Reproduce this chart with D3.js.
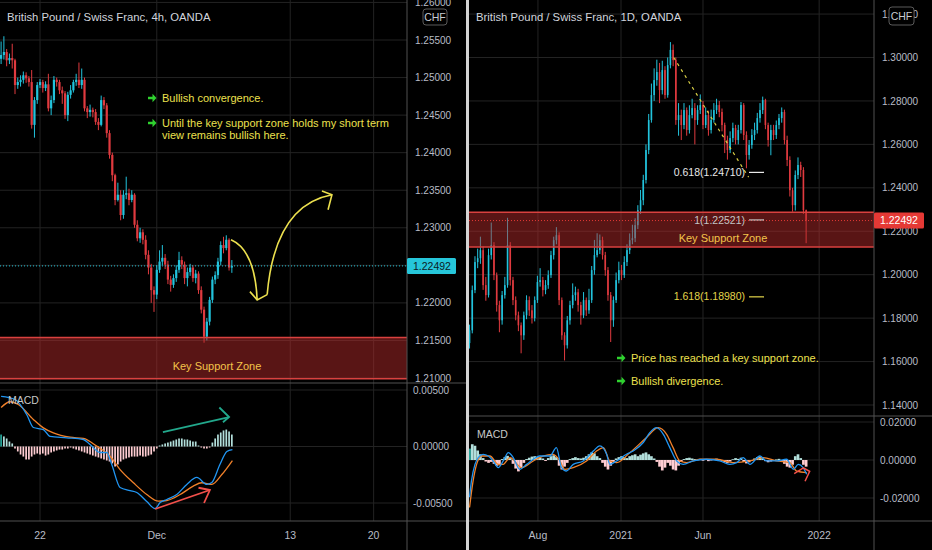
<!DOCTYPE html>
<html><head><meta charset="utf-8">
<script src="https://cdn.jsdelivr.net/npm/d3@7"></script>
<style>
body{margin:0;background:#000;}
svg{display:block;font-family:"Liberation Sans",Arial,sans-serif;}
</style>
</head><body>
<svg id="chart" width="932" height="550"></svg>
<script>
// ---------------- LEFT PANEL DATA (GBPCHF 4h) ----------------
const L_title = "British Pound / Swiss Franc, 4h, OANDA";
const L_open0 = 1.2525;
const L_close = [1.2530,1.2534,1.2523,1.2526,1.2523,1.2490,1.2494,1.2497,1.2503,1.2499,
 1.2494,1.2437,1.2470,1.2490,1.2494,1.2486,1.2491,1.2459,1.2470,1.2497,
 1.2494,1.2483,1.2479,1.2450,1.2477,1.2483,1.2494,1.2497,1.2490,1.2497,
 1.2459,1.2454,1.2457,1.2454,1.2441,1.2437,1.2470,1.2463,1.2426,1.2397,
 1.2370,1.2337,1.2344,1.2317,1.2344,1.2346,1.2337,1.2344,1.2304,1.2286,
 1.2294,1.2284,1.2264,1.2247,1.2217,1.2211,1.2244,1.2255,1.2260,1.2251,
 1.2231,1.2224,1.2233,1.2244,1.2257,1.2251,1.2233,1.2241,1.2247,1.2233,
 1.2239,1.2217,1.2191,1.2155,1.2175,1.2204,1.2231,1.2237,1.2255,1.2277,
 1.2273,1.2284,1.2247,1.2249];
const L_high = [1.2548,1.2555,1.2538,1.2532,1.2545,1.2525,1.2500,1.2503,1.2508,1.2507,
 1.2502,1.2510,1.2474,1.2494,1.2498,1.2497,1.2495,1.2505,1.2476,1.2502,
 1.2500,1.2497,1.2488,1.2482,1.2481,1.2490,1.2497,1.2505,1.2520,1.2512,
 1.2500,1.2462,1.2464,1.2460,1.2458,1.2446,1.2476,1.2474,1.2466,1.2430,
 1.2400,1.2372,1.2360,1.2350,1.2350,1.2368,1.2352,1.2350,1.2346,1.2310,
 1.2300,1.2298,1.2290,1.2270,1.2252,1.2222,1.2250,1.2270,1.2277,1.2265,
 1.2256,1.2236,1.2238,1.2250,1.2268,1.2262,1.2255,1.2247,1.2252,1.2250,
 1.2244,1.2242,1.2222,1.2195,1.2180,1.2208,1.2235,1.2242,1.2260,1.2282,
 1.2288,1.2290,1.2286,1.2257];
const L_low = [1.2518,1.2524,1.2515,1.2518,1.2512,1.2478,1.2485,1.2488,1.2492,1.2493,
 1.2488,1.2432,1.2420,1.2465,1.2486,1.2480,1.2482,1.2455,1.2450,1.2466,
 1.2488,1.2478,1.2465,1.2445,1.2442,1.2472,1.2480,1.2489,1.2486,1.2485,
 1.2455,1.2446,1.2448,1.2447,1.2437,1.2430,1.2435,1.2458,1.2420,1.2392,
 1.2362,1.2330,1.2335,1.2310,1.2312,1.2338,1.2330,1.2334,1.2300,1.2282,
 1.2280,1.2278,1.2258,1.2238,1.2200,1.2188,1.2205,1.2240,1.2250,1.2245,
 1.2225,1.2215,1.2220,1.2228,1.2240,1.2245,1.2225,1.2222,1.2236,1.2228,
 1.2226,1.2212,1.2186,1.2147,1.2150,1.2170,1.2200,1.2225,1.2232,1.2250,
 1.2266,1.2270,1.2243,1.2240];
const L_hist = [0.00106,0.00089,0.00071,0.00044,0.00027,-0.00018,-0.00044,-0.00071,-0.00089,-0.00115,
 -0.00115,-0.00089,-0.00071,-0.00062,-0.00071,-0.00062,-0.00080,-0.00071,-0.00053,-0.00044,
 -0.00035,-0.00027,-0.00027,-0.00018,-0.00018,-0.00009,-0.00018,-0.00027,-0.00035,-0.00044,
 -0.00053,-0.00062,-0.00071,-0.00080,-0.00089,-0.00097,-0.00106,-0.00115,-0.00124,-0.00133,
 -0.00150,-0.00177,-0.00159,-0.00133,-0.00115,-0.00106,-0.00097,-0.00089,-0.00089,-0.00089,
 -0.00080,-0.00089,-0.00089,-0.00080,-0.00071,-0.00044,-0.00018,0.00009,0.00018,0.00027,
 0.00035,0.00044,0.00053,0.00062,0.00071,0.00071,0.00062,0.00062,0.00053,0.00044,
 0.00044,0.00009,-0.00009,-0.00018,-0.00018,-0.00009,0.00035,0.00071,0.00106,0.00124,
 0.00142,0.00150,0.00133,0.00106];
const L_macdIdx = [0,5,9.2,11.6,15.2,17.6,23.6,29.6,32,35.6,38,39.8,42.8,46.4,48.8,52.4,55.4,57.2,59.6,63.2,66.8,70.4,74,75.8,78.7,81.2,83.2];
const L_macd = [0.00443,0.00416,0.00283,0.00168,0.00150,0.00089,0.00077,0.00062,0.00018,-0.00053,-0.00053,-0.00160,-0.00363,-0.00390,-0.00407,-0.00487,-0.00549,-0.00496,-0.00469,-0.00425,-0.00336,-0.00274,-0.00336,-0.00319,-0.00160,-0.00044,-0.00027];
const L_sigIdx = [0,3.2,6.2,11.6,15.2,18.8,24.8,29.6,34.4,39.2,42.8,47.6,52.4,56.6,59.6,64.4,69.1,72.2,75.8,79.4,83.2];
const L_sig = [0.00345,0.00396,0.00372,0.00239,0.00165,0.00121,0.00082,0.00071,0.00003,-0.00086,-0.00204,-0.00321,-0.00425,-0.00484,-0.00478,-0.00425,-0.00351,-0.00321,-0.00336,-0.00248,-0.00124];
const L_priceTicks = [1.26,1.255,1.25,1.245,1.24,1.235,1.23,1.225,1.22,1.215,1.21];
const L_macdTicks = [0.005,0,-0.005];
const L_timeIdx = [14,56,104,134];
const L_timeLab = ["22","Dec","13","20"];
const L_zone = [1.2099,1.2154];
const L_last = 1.22492;

// ---------------- RIGHT PANEL DATA (GBPCHF 1D, sampled) ----------------
const R_title = "British Pound / Swiss Franc, 1D, OANDA";
const R_start = "2020-03-28";
const R_stepDays = 5;
const R_open0 = 1.1685;
const R_close = [1.1744,1.1929,1.2058,1.2076,1.2113,1.1952,1.1906,1.2090,1.2136,1.1998,
 1.1860,1.1790,1.1906,1.1952,1.2136,1.1975,1.1883,1.1813,1.1767,1.1721,
 1.1813,1.1883,1.1836,1.1800,1.1883,1.1966,1.1975,1.1929,1.1952,1.1998,
 1.2090,1.2159,1.2182,1.1883,1.1721,1.1675,1.1790,1.1860,1.1906,1.1919,
 1.1860,1.1813,1.1883,1.1836,1.1883,1.2021,1.2090,1.2113,1.2159,1.2090,
 1.2021,1.1906,1.1790,1.1883,1.1975,1.2021,1.1998,1.2058,1.2113,1.2159,
 1.2168,1.2228,1.2297,1.2343,1.2436,1.2574,1.2712,1.2827,1.2896,1.2933,
 1.2850,1.2942,1.2827,1.2965,1.3035,1.2988,1.2712,1.2735,1.2689,1.2758,
 1.2666,1.2735,1.2767,1.2712,1.2758,1.2781,1.2689,1.2735,1.2666,1.2712,
 1.2758,1.2781,1.2749,1.2689,1.2620,1.2574,1.2629,1.2675,1.2620,1.2666,
 1.2781,1.2643,1.2551,1.2597,1.2643,1.2666,1.2721,1.2758,1.2804,1.2689,
 1.2620,1.2666,1.2643,1.2689,1.2721,1.2749,1.2620,1.2528,1.2389,1.2320,
 1.2459,1.2505,1.2482,1.2297,1.2249];
const R_high = [1.1770,1.1950,1.2085,1.2120,1.2175,1.2130,1.1990,1.2120,1.2240,1.2150,
 1.2010,1.1880,1.1925,1.1990,1.2262,1.2150,1.1990,1.1900,1.1830,1.1780,
 1.1830,1.1905,1.1900,1.1860,1.1900,1.1995,1.2030,1.1990,1.1975,1.2020,
 1.2110,1.2175,1.2219,1.2195,1.1895,1.1735,1.1810,1.1880,1.1960,1.1945,
 1.1935,1.1875,1.1920,1.1895,1.1935,1.2040,1.2160,1.2191,1.2185,1.2175,
 1.2105,1.2035,1.1920,1.1900,1.2010,1.2060,1.2045,1.2085,1.2140,1.2190,
 1.2230,1.2260,1.2320,1.2390,1.2460,1.2600,1.2740,1.2880,1.2950,1.2990,
 1.2975,1.2985,1.2960,1.3000,1.3071,1.3060,1.3000,1.2790,1.2760,1.2790,
 1.2770,1.2780,1.2810,1.2790,1.2780,1.2830,1.2800,1.2770,1.2755,1.2760,
 1.2790,1.2810,1.2800,1.2765,1.2700,1.2640,1.2660,1.2700,1.2690,1.2690,
 1.2795,1.2790,1.2660,1.2620,1.2670,1.2700,1.2745,1.2790,1.2820,1.2810,
 1.2700,1.2690,1.2690,1.2710,1.2740,1.2770,1.2760,1.2640,1.2545,1.2400,
 1.2480,1.2540,1.2520,1.2495,1.2300];
const R_low = [1.1660,1.1730,1.1915,1.2030,1.2050,1.1930,1.1880,1.1895,1.2070,1.1975,
 1.1830,1.1735,1.1770,1.1890,1.1940,1.1950,1.1860,1.1790,1.1740,1.1638,
 1.1700,1.1795,1.1810,1.1775,1.1785,1.1870,1.1945,1.1900,1.1910,1.1935,
 1.1985,1.2070,1.2140,1.1860,1.1700,1.1605,1.1660,1.1770,1.1845,1.1880,
 1.1830,1.1770,1.1800,1.1810,1.1820,1.1870,1.2000,1.2080,1.2095,1.2070,
 1.1995,1.1880,1.1690,1.1760,1.1870,1.1960,1.1975,1.1985,1.2040,1.2095,
 1.2140,1.2150,1.2210,1.2280,1.2320,1.2420,1.2555,1.2700,1.2800,1.2870,
 1.2790,1.2830,1.2810,1.2815,1.2950,1.2960,1.2690,1.2640,1.2620,1.2670,
 1.2640,1.2650,1.2720,1.2600,1.2690,1.2740,1.2670,1.2675,1.2640,1.2650,
 1.2700,1.2740,1.2725,1.2660,1.2560,1.2530,1.2560,1.2610,1.2600,1.2600,
 1.2650,1.2620,1.2490,1.2530,1.2580,1.2620,1.2650,1.2700,1.2740,1.2670,
 1.2590,1.2550,1.2620,1.2625,1.2670,1.2700,1.2600,1.2500,1.2360,1.2290,
 1.2295,1.2440,1.2450,1.2280,1.2145];
const R_hist = [0.0060,0.0083,0.0075,0.0050,0.0030,0.0010,-0.0008,-0.0015,-0.0010,-0.0020,
 -0.0030,-0.0028,0.0005,0.0015,0.0022,0.0010,-0.0020,-0.0045,-0.0060,-0.0040,
 -0.0015,0.0005,0.0012,0.0018,0.0020,0.0015,0.0012,0.0008,-0.0005,0.0010,
 0.0020,0.0025,0.0015,-0.0030,-0.0050,-0.0035,-0.0015,0.0005,0.0010,0.0015,
 0.0010,0.0008,0.0012,0.0020,0.0030,0.0040,0.0035,0.0020,0.0010,-0.0015,
 -0.0035,-0.0050,-0.0030,-0.0010,0.0008,0.0015,0.0020,0.0015,0.0010,0.0020,
 0.0025,0.0030,0.0020,0.0028,0.0035,0.0040,0.0030,0.0020,0.0008,-0.0010,
 -0.0035,-0.0055,-0.0040,-0.0015,-0.0030,-0.0050,-0.0055,-0.0030,-0.0010,0.0005,
 0.0010,0.0012,0.0008,0.0005,0.0002,0.0006,-0.0004,0.0003,-0.0006,-0.0002,
 0.0004,0.0007,0.0003,-0.0005,-0.0012,-0.0015,-0.0008,0.0004,0.0010,0.0006,
 0.0012,-0.0010,-0.0018,-0.0012,-0.0005,0.0008,0.0015,0.0018,0.0010,-0.0006,
 -0.0012,-0.0008,-0.0004,0.0003,0.0006,-0.0005,-0.0020,-0.0035,-0.0040,-0.0025,
 0.0020,0.0030,0.0010,-0.0025,-0.0035];
const R_macdIdx = [0,0.7,2,3.2,5,6.9,8.7,10.6,12.4,14.3,16.1,18.5,21,23.5,25.9,29.6,32,33.9,35.7,38.2,41.9,45.6,48,50.5,51.7,54.2,57.8,60.3,64,66.4,68.9,71.4,73.8,76.3,78.7,82.4,87.3,92.2,95.9,98.4,100.8,103.3,107,109.4,113.1,116.8,119.3,121.1,122.9,124.2];
const R_macd = [-0.0196,-0.0110,-0.0023,0.0013,0.0030,0.0021,-0.0005,-0.0040,-0.0005,0.0039,0.0013,-0.0049,-0.0023,0.0004,0.0021,0.0021,0.0065,-0.0040,-0.0058,-0.0023,-0.0005,0.0047,0.0074,0.0030,-0.0023,-0.0005,0.0030,0.0047,0.0092,0.0144,0.0170,0.0135,0.0065,-0.0005,-0.0023,-0.0005,0.0004,-0.0005,-0.0023,-0.0014,0.0013,-0.0023,0.0021,-0.0005,-0.0005,0.0004,-0.0049,-0.0023,-0.0040,-0.0075];
const R_sigIdx = [0,1.2,2.6,4.4,7.5,10.6,12.4,14.9,19.2,23.5,27.1,30.8,33.3,35.1,38.2,43.1,46.8,49.3,51.7,54.2,59.1,65.2,69.5,72.6,75,77.5,80,84.9,91,97.1,103.3,108.2,113.1,118,120.5,124.2];
const R_sig = [-0.0250,-0.0120,-0.0023,0.0021,0.0021,-0.0023,-0.0023,0.0013,-0.0040,-0.0005,0.0021,0.0030,-0.0005,-0.0049,-0.0040,-0.0005,0.0047,0.0065,-0.0005,-0.0014,0.0039,0.0118,0.0170,0.0135,0.0065,-0.0005,-0.0014,0.0004,0.0004,-0.0014,-0.0005,0.0013,-0.0005,-0.0014,-0.0058,-0.0066];
const R_priceTicks = [1.32,1.30,1.28,1.26,1.24,1.22,1.20,1.18,1.16,1.14];
const R_macdTicks = [0.02,0,-0.02];
const R_timeDates = ["2020-08-01","2021-01-01","2021-06-01","2022-01-01"];
const R_timeLab = ["Aug","2021","Jun","2022"];
const R_zone = [1.2127,1.2288];
const R_last = 1.22492;
const R_fibLevels = [1.24710,1.22521,1.18980];
const R_fibLabels = ["0.618(1.24710)","1(1.22521)","1.618(1.18980)"];

// ---------------- STYLE ----------------
const GRID="#232323", SEP="#505050", AX="#b8bcc6", TITLE="#d1d4dc";
const UP="#22c3dc", DN="#e03a3f";
const BLUE="#2196f3", ORANGE="#f0802a";
const ZONE_FILL="rgba(190,45,45,0.47)", ZONE_LINE="#d9413f";
const YEL="#ece04e";

const svg = d3.select("#chart");
svg.append("rect").attr("width",932).attr("height",550).attr("fill","#000");
const defs = svg.append("defs");
function clip(id,x,y,w,h){defs.append("clipPath").attr("id",id).append("rect").attr("x",x).attr("y",y).attr("width",w).attr("height",h);return "url(#"+id+")";}
const fmt = v => v.toFixed(5);

function histColor(h,i,arr){
  const p = i>0?arr[i-1]:h;
  if(h>=0) return h>=p ? "#26a69a" : "#b2dfdb";
  return h<p ? "#ff5252" : "#ffcdd2";
}

function panel(o){
  const g = svg.append("g");
  const cp = clip("cp"+o.id,o.x0,0,o.ax-o.x0,o.sepY);
  const cm = clip("cm"+o.id,o.x0,o.sepY,o.ax-o.x0,o.botY-o.sepY);
  const ca = clip("ca"+o.id,o.ax,0,o.x1-o.ax,o.sepY);
  // grid
  g.selectAll(null).data(o.timeX).join("line")
    .attr("x1",d=>d).attr("x2",d=>d).attr("y1",0).attr("y2",o.botY).attr("stroke",GRID);
  g.selectAll(null).data(o.priceTicks).join("line").attr("clip-path",cp)
    .attr("x1",o.x0).attr("x2",o.ax).attr("y1",d=>o.y(d)).attr("y2",d=>o.y(d)).attr("stroke",GRID);
  g.selectAll(null).data(o.macdTicks).join("line")
    .attr("x1",o.x0).attr("x2",o.ax).attr("y1",d=>o.m(d)).attr("y2",d=>o.m(d)).attr("stroke",GRID);
  // candles
  const cg = g.append("g").attr("clip-path",cp);
  o.C.forEach((c,i)=>{
    const op = i===0 ? o.open0 : o.C[i-1];
    const col = c>=op ? UP : DN;
    const x = o.x(i);
    const hi = Math.max(o.H[i],op,c), lo = Math.min(o.L[i],op,c);
    cg.append("line").attr("x1",x).attr("x2",x).attr("y1",o.y(hi)).attr("y2",o.y(lo)).attr("stroke",col).attr("stroke-width",1);
    const t = o.y(Math.max(op,c)), b = o.y(Math.min(op,c));
    cg.append("rect").attr("x",x-o.bw/2).attr("y",t).attr("width",o.bw).attr("height",Math.max(1,b-t)).attr("fill",col);
  });
  // support zone
  const zt = o.y(o.zone[1]), zb = o.y(o.zone[0]);
  g.append("rect").attr("x",o.x0).attr("y",zt).attr("width",o.ax-o.x0).attr("height",zb-zt).attr("fill",ZONE_FILL);
  g.append("line").attr("x1",o.x0).attr("x2",o.ax).attr("y1",zt).attr("y2",zt).attr("stroke",ZONE_LINE).attr("stroke-width",1.5);
  g.append("line").attr("x1",o.x0).attr("x2",o.ax).attr("y1",zb).attr("y2",zb).attr("stroke",ZONE_LINE).attr("stroke-width",1.5);
  g.append("text").attr("x",o.zoneLabelX).attr("y",(zt+zb)/2+o.zoneLabelDy).attr("text-anchor","middle")
    .attr("fill","#f3c44a").attr("font-size",11).text("Key Support Zone");
  // last price line
  g.append("line").attr("x1",o.x0).attr("x2",o.ax).attr("y1",o.y(o.last)).attr("y2",o.y(o.last))
    .attr("stroke",o.lastColor).attr("stroke-dasharray","1,2").attr("stroke-width",1);
  // MACD histogram
  const mg = g.append("g").attr("clip-path",cm);
  mg.selectAll(null).data(o.hist).join("rect")
    .attr("x",(d,i)=>o.x(i)-o.hw/2).attr("width",o.hw)
    .attr("y",d=>Math.min(o.m(d),o.m(0))).attr("height",d=>Math.max(0.5,Math.abs(o.m(d)-o.m(0))))
    .attr("fill",histColor);
  const line = d3.line().x(d=>o.x(d[0])).y(d=>o.m(d[1])).curve(d3.curveMonotoneX);
  mg.append("path").attr("d",line(d3.zip(o.sigIdx,o.sig))).attr("fill","none").attr("stroke",ORANGE).attr("stroke-width",1.3);
  mg.append("path").attr("d",line(d3.zip(o.macdIdx,o.macd))).attr("fill","none").attr("stroke",BLUE).attr("stroke-width",1.3);
  g.append("text").attr("x",o.x0+8).attr("y",o.sepY+o.macdLabelDy).attr("fill","#c8c8c8").attr("font-size",10.5).text("MACD");
  // title
  g.append("text").attr("x",o.x0+7).attr("y",21).attr("fill",TITLE).attr("font-size",11.3).text(o.title);
  // separators / axis borders
  g.append("line").attr("x1",o.x0).attr("x2",o.x1).attr("y1",o.sepY).attr("y2",o.sepY).attr("stroke",SEP);
  g.append("line").attr("x1",o.x0).attr("x2",o.x1).attr("y1",o.botY).attr("y2",o.botY).attr("stroke",SEP);
  g.append("line").attr("x1",o.ax).attr("x2",o.ax).attr("y1",0).attr("y2",550).attr("stroke",SEP);
  // price axis labels (those hidden by the last-price label are skipped)
  const ly = o.y(o.last);
  g.append("g").attr("clip-path",ca).selectAll(null)
    .data(o.priceTicks.filter(d=>Math.abs(o.y(d)-ly)>o.hideGap)).join("text")
    .attr("x",o.ax+8).attr("y",d=>o.y(d)+3.6).attr("fill",AX).attr("font-size",10).text(fmt);
  g.selectAll(null).data(o.macdTicks).join("text")
    .attr("x",o.ax+6).attr("y",d=>o.m(d)+3.6).attr("fill",AX).attr("font-size",10).text(fmt);
  // time axis labels
  g.selectAll(null).data(o.timeX).join("text")
    .attr("x",d=>d).attr("y",539).attr("text-anchor","middle").attr("fill",AX).attr("font-size",10.5)
    .text((d,i)=>o.timeLab[i]);
  // last price label
  g.append("rect").attr("x",o.ax).attr("y",ly-8).attr("width",o.labelW).attr("height",16).attr("rx",1.5).attr("fill",o.lastColor);
  g.append("text").attr("x",o.ax+6).attr("y",ly+3.8).attr("fill",o.lastText).attr("font-size",10.5).text(fmt(o.last));
  // CHF box
  g.append("rect").attr("x",o.chf[0]).attr("y",o.chf[1]).attr("width",o.chf[2]).attr("height",o.chf[3]).attr("rx",3)
    .attr("fill","#000").attr("stroke","#5a5a5a");
  g.append("text").attr("x",o.chf[0]+o.chf[2]/2).attr("y",o.chf[1]+o.chf[3]/2+3.8).attr("text-anchor","middle")
    .attr("fill","#c8cbd2").attr("font-size",10.5).text("CHF");
  return g;
}

// ---------- LEFT ----------
const xL = d3.scaleLinear().domain([0,146]).range([1.1,407]);
const yL = d3.scaleLinear().domain([1.21,1.255]).range([378,40]);
const mL = d3.scaleLinear().domain([-0.005,0.005]).range([503,390]);
const gL = panel({id:"L",x0:0,ax:407,x1:466,sepY:383,botY:521,x:xL,y:yL,m:mL,
  C:L_close,H:L_high,L:L_low,open0:L_open0,bw:2.2,hw:1.7,hist:L_hist,
  macdIdx:L_macdIdx,macd:L_macd,sigIdx:L_sigIdx,sig:L_sig,
  priceTicks:L_priceTicks,macdTicks:L_macdTicks,timeX:L_timeIdx.map(xL),timeLab:L_timeLab,
  zone:L_zone,zoneLabelX:217,zoneLabelDy:12,last:L_last,lastColor:"#26c6da",lastText:"#0d1b24",labelW:49,hideGap:9,
  title:L_title,macdLabelDy:21,chf:[423,9,24,16]});

// left annotations
function greenArrow(g,x,y){
  g.append("path").attr("d",`M${x},${y-1.3}h4.5v-3l4,4.3l-4,4.3v-3h-4.5z`).attr("fill","#2fd12f");
}
greenArrow(gL,148,98);
gL.append("text").attr("x",162).attr("y",102).attr("fill",YEL).attr("font-size",11).text("Bullish convergence.");
greenArrow(gL,148,123);
gL.append("text").attr("x",162).attr("y",127).attr("fill",YEL).attr("font-size",11).text("Until the key support zone holds my short term");
gL.append("text").attr("x",162).attr("y",139).attr("fill",YEL).attr("font-size",11).text("view remains bullish here.");

const L_arrowDown = [[82.7,1.2284],[91.3,1.2270],[92.1,1.2204]];
const L_arrowUp = [[95.7,1.2211],[98.5,1.2330],[119,1.2344]];
function qpath(pts,sx,sy){const p=d3.path();p.moveTo(sx(pts[0][0]),sy(pts[0][1]));p.quadraticCurveTo(sx(pts[1][0]),sy(pts[1][1]),sx(pts[2][0]),sy(pts[2][1]));return p.toString();}
gL.append("path").attr("d",qpath(L_arrowDown,xL,yL)).attr("fill","none").attr("stroke",YEL).attr("stroke-width",1.6);
gL.append("path").attr("d",qpath(L_arrowUp,xL,yL)).attr("fill","none").attr("stroke",YEL).attr("stroke-width",1.6);
const L_headDown = [[89.5,1.2215],[92.1,1.2204],[95.7,1.2211]];
const L_headUp = [[115.4,1.2349],[119,1.2344],[117.6,1.2324]];
const pl = (sx,sy)=>d3.line().x(d=>sx(d[0])).y(d=>sy(d[1]));
gL.append("path").attr("d",pl(xL,yL)(L_headDown)).attr("fill","none").attr("stroke",YEL).attr("stroke-width",1.6);
gL.append("path").attr("d",pl(xL,yL)(L_headUp)).attr("fill","none").attr("stroke",YEL).attr("stroke-width",1.6);
// MACD divergence arrows
const L_tealArrow = [[58.2,0.00128],[82,0.00261]];
const L_tealHead = [[78.5,0.00345],[82,0.00261],[79.8,0.00215]];
const L_redArrow = [[55.4,-0.00553],[75.1,-0.00385]];
const L_redHead = [[71,-0.00365],[75.1,-0.00385],[73,-0.00500]];
gL.append("path").attr("d",pl(xL,mL)(L_tealArrow)).attr("fill","none").attr("stroke","#22a88c").attr("stroke-width",1.8);
gL.append("path").attr("d",pl(xL,mL)(L_tealHead)).attr("fill","none").attr("stroke","#22a88c").attr("stroke-width",1.8);
gL.append("path").attr("d",pl(xL,mL)(L_redArrow)).attr("fill","none").attr("stroke","#f2504b").attr("stroke-width",1.8);
gL.append("path").attr("d",pl(xL,mL)(L_redHead)).attr("fill","none").attr("stroke","#f2504b").attr("stroke-width",1.8);

// ---------- RIGHT ----------
const xT = d3.scaleUtc().domain([new Date("2020-03-27"),new Date("2022-04-12")]).range([469,874]);
const t0 = new Date(R_start).getTime();
const xR = i => xT(new Date(t0 + i*R_stepDays*864e5));
const yR = d3.scaleLinear().domain([1.14,1.30]).range([405,57.5]);
const mR = d3.scaleLinear().domain([-0.02,0.02]).range([498,422]);
const gR = panel({id:"R",x0:469,ax:874,x1:932,sepY:416,botY:521,x:xR,y:yR,m:mR,
  C:R_close,H:R_high,L:R_low,open0:R_open0,bw:1.6,hw:2.7,hist:R_hist,
  macdIdx:R_macdIdx,macd:R_macd,sigIdx:R_sigIdx,sig:R_sig,
  priceTicks:R_priceTicks,macdTicks:R_macdTicks,timeX:R_timeDates.map(d=>xT(new Date(d))),timeLab:R_timeLab,
  zone:R_zone,zoneLabelX:723,zoneLabelDy:12,last:R_last,lastColor:"#e53935",lastText:"#ffffff",labelW:50,hideGap:9,
  title:R_title,macdLabelDy:22,chf:[889,7,25,18]});

// fib trend line (dashed)
const R_fibLine = [[75.2,1.3000],[102.8,1.2449]];
gR.append("path").attr("d",pl(xR,yR)(R_fibLine)).attr("fill","none").attr("stroke","#d8cf45").attr("stroke-width",1.2).attr("stroke-dasharray","3,4");
const fibColors = ["#e8e8e8","#c4c4c4","#e3d54a"];
R_fibLevels.forEach((p,k)=>{
  const y = yR(p);
  gR.append("text").attr("x",745).attr("y",y+3.6).attr("text-anchor","end").attr("fill",fibColors[k]).attr("font-size",10.5).text(R_fibLabels[k]);
  gR.append("line").attr("x1",749).attr("x2",764).attr("y1",y).attr("y2",y).attr("stroke",fibColors[k]).attr("stroke-width",1.2);
});
greenArrow(gR,617,358);
gR.append("text").attr("x",631).attr("y",362).attr("fill",YEL).attr("font-size",11).text("Price has reached a key support zone.");
greenArrow(gR,617,381);
gR.append("text").attr("x",631).attr("y",385).attr("fill",YEL).attr("font-size",11).text("Bullish divergence.");
const R_redMark = [[119.6,-0.0072],[123,-0.0042],[125.3,-0.0060],[123.6,-0.0112]];
gR.append("path").attr("d",pl(xR,mR)(R_redMark)).attr("fill","none").attr("stroke","#f2504b").attr("stroke-width",1.5);

// panel divider
svg.append("rect").attr("x",466).attr("y",0).attr("width",3).attr("height",550).attr("fill","#d4d4d4");
</script>
</body></html>
